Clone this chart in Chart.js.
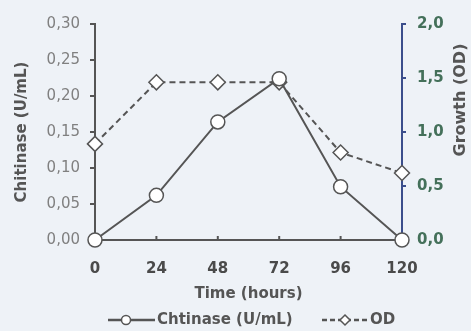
<!DOCTYPE html>
<html><head><meta charset="utf-8">
<script src="https://cdn.jsdelivr.net/npm/chart.js@4/dist/chart.umd.min.js"></script>
<style>html,body{margin:0;padding:0;background:#eef2f7}#wrap{width:471px;height:331px}</style>
</head><body><div id="wrap"><canvas id="c" width="471" height="331"></canvas></div>
<script>
const hours = [0, 24, 48, 72, 96, 120];
const chitinase = [0.000, 0.062, 0.164, 0.224, 0.074, 0.000];
const od = [0.89, 1.46, 1.46, 1.46, 0.81, 0.62];
const leftTicks = [0, 0.05, 0.10, 0.15, 0.20, 0.25, 0.30];
const rightTicks = [0, 0.5, 1.0, 1.5, 2.0];
const seriesNames = ['Chtinase (U/mL)', 'OD'];
const axisTitles = {x: 'Time (hours)', left: 'Chitinase (U/mL)', right: 'Growth (OD)'};

const lineGray = '#555555';
const blue = '#3b4e8c';
const green = '#44705a';
const wide = '"DejaVu Sans", Verdana, sans-serif';

const bg = {id:'bg', beforeDraw(c){const x=c.ctx;x.save();x.fillStyle='#eef2f7';x.fillRect(0,0,c.width,c.height);x.restore();}};

const extras = {id:'extras', afterDraw(c){
  const ctx=c.ctx;
  // small inward x ticks
  const xs=c.scales.x, yb=c.chartArea.bottom;
  ctx.save(); ctx.strokeStyle=lineGray; ctx.lineWidth=2;
  hours.slice(1,-1).forEach(h=>{const px=xs.getPixelForValue(h); ctx.beginPath(); ctx.moveTo(px,yb); ctx.lineTo(px,yb-4); ctx.stroke();});
  ctx.restore();
  // right title
  ctx.save();
  ctx.translate(461, 100); ctx.rotate(-Math.PI/2);
  ctx.font='bold 16px '+wide; ctx.fillStyle='#555';
  ctx.textAlign='center'; ctx.textBaseline='middle';
  ctx.fillText(axisTitles.right,0,0);
  ctx.restore();
  // legend
  ctx.save();
  const y=320;
  ctx.font='bold 15px '+wide;
  ctx.textBaseline='middle'; ctx.textAlign='left';
  ctx.strokeStyle=lineGray; ctx.lineWidth=2.5;
  ctx.beginPath(); ctx.moveTo(108,y); ctx.lineTo(155,y); ctx.stroke();
  ctx.fillStyle='#fff'; ctx.lineWidth=1.5; ctx.beginPath(); ctx.arc(126,y,4.5,0,Math.PI*2); ctx.fill(); ctx.stroke();
  ctx.fillStyle='#555'; ctx.fillText(seriesNames[0],157,y);
  ctx.lineWidth=2.5; ctx.setLineDash([5,3]);
  ctx.beginPath(); ctx.moveTo(322,y); ctx.lineTo(368,y); ctx.stroke();
  ctx.setLineDash([]);
  ctx.fillStyle='#fff'; ctx.lineWidth=1.5; ctx.beginPath();
  ctx.moveTo(345,y-5); ctx.lineTo(350,y); ctx.lineTo(345,y+5); ctx.lineTo(340,y); ctx.closePath(); ctx.fill(); ctx.stroke();
  ctx.fillStyle='#555'; ctx.fillText(seriesNames[1],370,y);
  ctx.restore();
}};

const fmt = (d)=> (v)=> v.toFixed(d).replace('.',',');

new Chart(document.getElementById('c'), {
  type:'line',
  data:{datasets:[
    {label:seriesNames[0], data:hours.map((h,i)=>({x:h,y:chitinase[i]})), yAxisID:'y', clip:false,
     borderColor:lineGray, borderWidth:2, pointStyle:'circle', pointRadius:7, pointBackgroundColor:'#fff',
     pointBorderColor:lineGray, pointBorderWidth:1.5, tension:0},
    {label:seriesNames[1], data:hours.map((h,i)=>({x:h,y:od[i]})), yAxisID:'y2', clip:false,
     borderColor:lineGray, borderWidth:2, borderDash:[6,4], pointStyle:'rectRot', pointRadius:7.5, pointBackgroundColor:'#fff',
     pointBorderColor:lineGray, pointBorderWidth:1.5, tension:0}
  ]},
  options:{
    responsive:false, animation:false,
    layout:{padding:{top:24,bottom:28,left:0,right:0}},
    plugins:{legend:{display:false}, tooltip:{enabled:false}},
    scales:{
      x:{type:'linear', min:0, max:120, afterBuildTicks:(s)=>{s.ticks=hours.map(v=>({value:v}));},
        border:{color:lineGray, width:2},
        grid:{drawOnChartArea:false, drawTicks:false},
        ticks:{padding:20, color:'#4a4a4a', font:{family:wide, size:15, weight:'bold'}},
        title:{display:true, text:axisTitles.x, color:'#555', padding:{top:4,bottom:0}, font:{family:wide, size:15, weight:'bold'}},
        afterFit:(s)=>{s.height=63;}
      },
      y:{position:'left', min:0, max:0.30, afterBuildTicks:(s)=>{s.ticks=leftTicks.map(v=>({value:v}));},
        border:{color:lineGray, width:2},
        grid:{drawOnChartArea:false, drawTicks:true, tickLength:5, color:lineGray, lineWidth:2},
        ticks:{padding:10, color:'#808080', callback:fmt(2), font:{family:wide, size:15}},
        title:{display:true, text:axisTitles.left, color:'#555', padding:{top:13,bottom:0}, font:{family:wide, size:15, weight:'bold'}},
        afterFit:(s)=>{s.width=95;}
      },
      y2:{position:'right', min:0, max:2.0, afterBuildTicks:(s)=>{s.ticks=rightTicks.map(v=>({value:v}));},
        border:{color:blue, width:2},
        grid:{drawOnChartArea:false, drawTicks:true, tickLength:4, color:blue, lineWidth:2},
        ticks:{padding:11, color:green, callback:fmt(1), font:{family:wide, size:15, weight:'bold'}},
        afterFit:(s)=>{s.width=69;}
      }
    }
  },
  plugins:[bg, extras]
});
</script></body></html>
